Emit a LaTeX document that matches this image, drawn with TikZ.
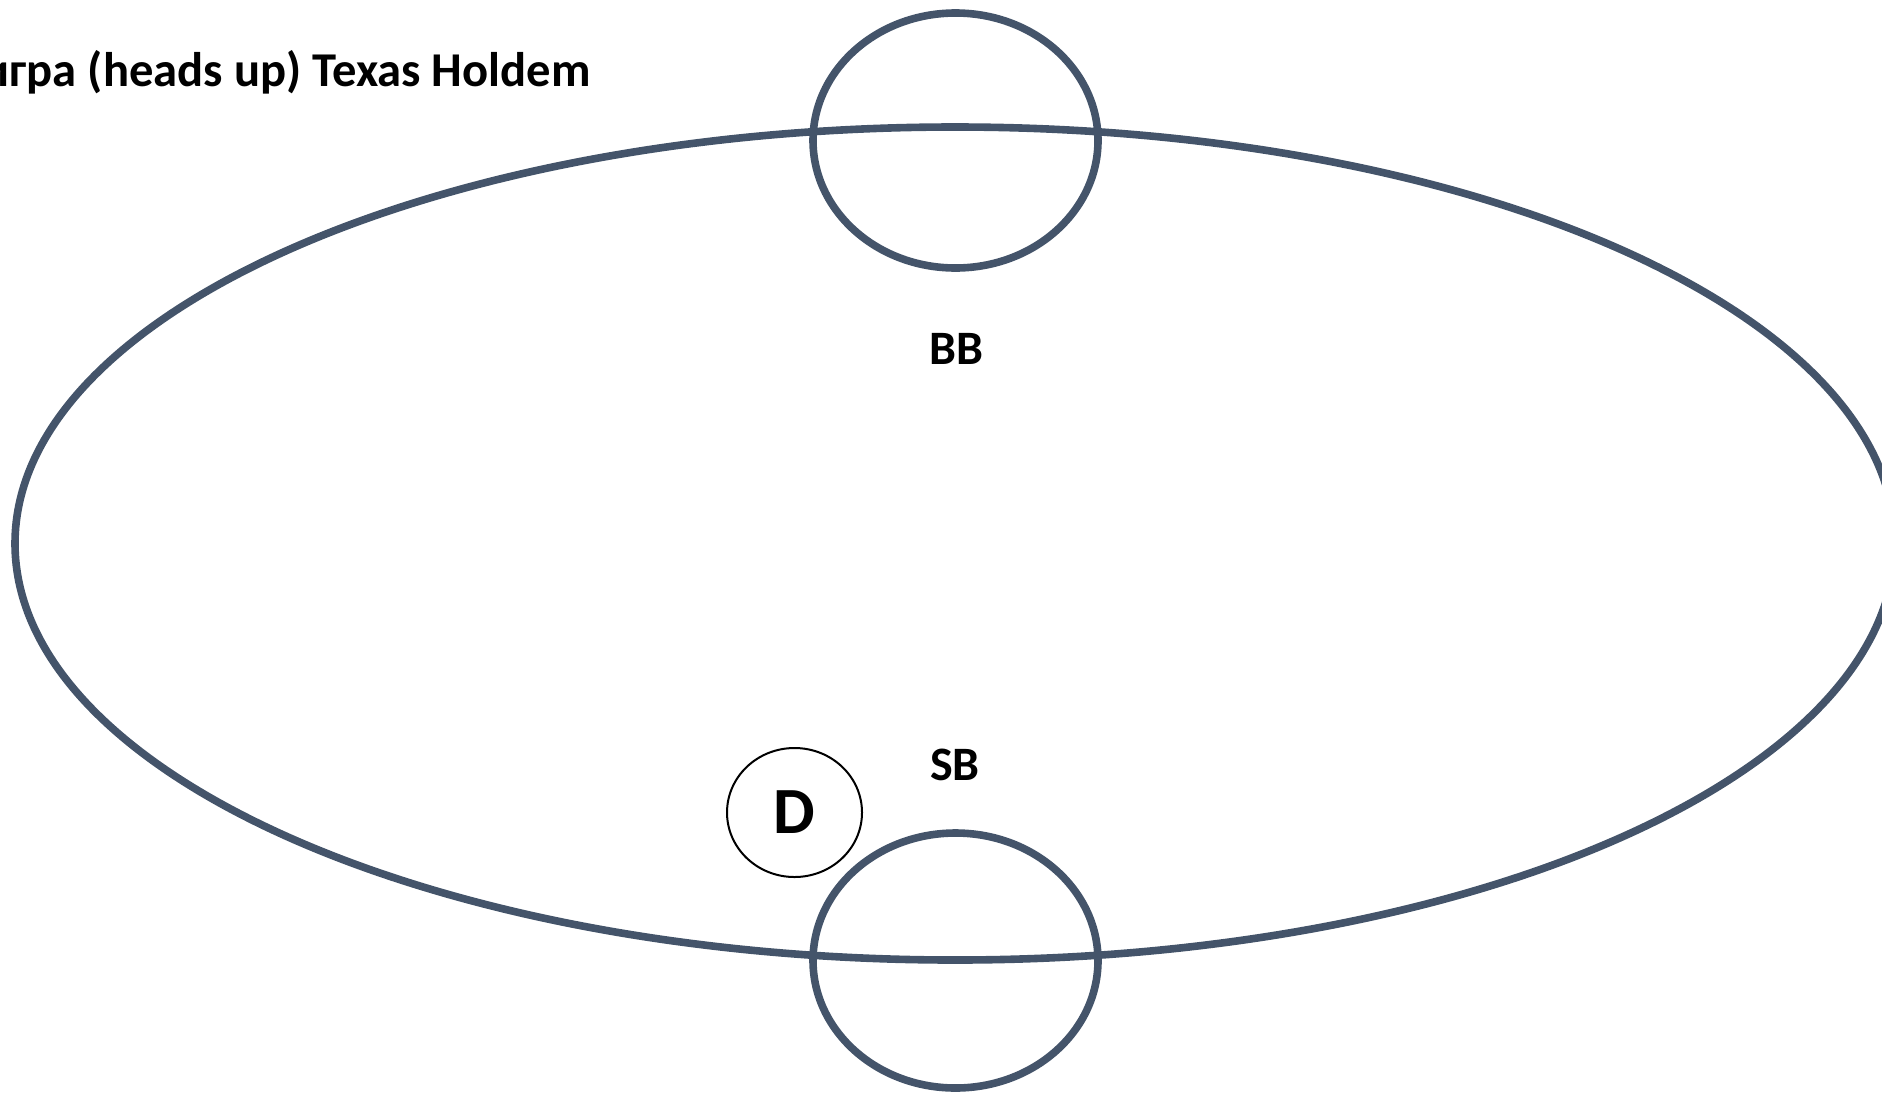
\documentclass[tikz,border=0pt]{standalone}
\usepackage{fontspec}
\setmainfont{Carlito}
\usepackage{xcolor}
\usepackage{tikz}
\usetikzlibrary{shapes.geometric, positioning}
\definecolor{tableline}{RGB}{68,84,106}

\begin{document}
\begin{tikzpicture}[x=0.5pt, y=-0.5pt,
    seat/.style={draw=tableline, line width=3.8pt, ellipse, minimum width=142.5pt, minimum height=127.5pt, inner sep=0pt},
    blind/.style={font=\bfseries\fontsize{24}{28}\selectfont}]
    \useasboundingbox (0,0) rectangle (1882,1093);
    % table and the two seats
    \node[draw=tableline, line width=3.8pt, ellipse, minimum width=940pt, minimum height=416.5pt, inner sep=0pt] (table) at (955,543.5) {};
    \node[seat] (seatBB) at (955.5,140.5) {};
    \node[seat] (seatSB) at (955.5,960.5) {};
    % labels
    \node[blind] (labelBB) at (956,349) {BB};
    \node[blind] (labelSB) at (955,765) {SB};
    \node[draw, ellipse, line width=1pt, minimum width=67.5pt, minimum height=64.5pt, inner sep=0pt, font=\bfseries\fontsize{33}{38}\selectfont] (dealer) at (794.5,812.5) {D};
    \node[anchor=base east, inner sep=0pt, font=\bfseries\fontsize{24.3}{29}\selectfont] (title) at (591,86) {игра (heads up) Texas Holdem};
\end{tikzpicture}
\end{document}
